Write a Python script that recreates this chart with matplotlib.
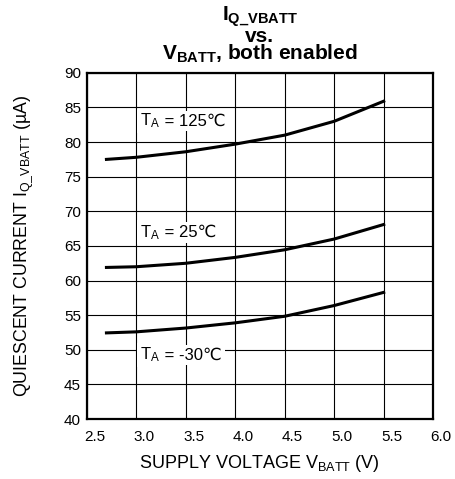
import numpy as np
from matplotlib import pyplot as plt
from matplotlib.transforms import ScaledTranslation

plt.rcParams["font.family"] = ["Liberation Sans", "DejaVu Sans"]
plt.rcParams["mathtext.fontset"] = "custom"
plt.rcParams["mathtext.rm"] = "Liberation Sans"
plt.rcParams["mathtext.it"] = "Liberation Sans"
plt.rcParams["mathtext.bf"] = "Liberation Sans:bold"

# Supply voltage (V)
v_batt = [2.7, 3.0, 3.5, 4.0, 4.5, 5.0, 5.5]

# Quiescent current (uA) per ambient temperature
iq_125 = [77.5, 77.8, 78.6, 79.7, 81.0, 83.0, 85.9]
iq_25 = [61.9, 62.0, 62.5, 63.35, 64.45, 66.0, 68.1]
iq_m30 = [52.45, 52.6, 53.15, 53.9, 54.85, 56.4, 58.3]

curves = [iq_125, iq_25, iq_m30]
temps = [" = 125\u2103", " = 25\u2103", " = -30\u2103"]
label_pos = [(3.04, 82.4), (3.04, 66.3), (3.04, 48.6)]

x_ticks = [2.5, 3.0, 3.5, 4.0, 4.5, 5.0, 5.5, 6.0]
y_ticks = [40, 45, 50, 55, 60, 65, 70, 75, 80, 85, 90]

fig = plt.figure(figsize=(4.56, 4.79), dpi=100)
ax = fig.add_axes([0.19, 0.125, 0.76, 0.723])

for iq in curves:
    ax.plot(v_batt, iq, color="black", linewidth=2.2, zorder=3)

# Temperature labels: "T" with subscript A, then the rest as plain text
box = dict(facecolor="white", edgecolor="none", pad=2)
for text, (x, y) in zip(temps, label_pos):
    t1 = ax.text(x, y, "T$_{\\mathrm{A}}$", fontsize=12, ha="left", va="baseline",
                 zorder=5, bbox=box)
    ax.annotate(text, xy=(1, y), xycoords=(t1, "data"), fontsize=12,
                ha="left", va="baseline", zorder=4, bbox=box)

ax.set_xlim(2.5, 6.0)
ax.set_ylim(40, 90)
ax.set_xticks(x_ticks)
ax.set_xticklabels([f"{t:.1f}" for t in x_ticks])
ax.set_yticks(y_ticks)
ax.tick_params(length=0, labelsize=11)
ax.tick_params(axis="x", pad=8)
ax.tick_params(axis="y", pad=4)
shift = ScaledTranslation(0.08, 0, fig.dpi_scale_trans)
for lbl in ax.get_xticklabels():
    lbl.set_transform(lbl.get_transform() + shift)

ax.grid(True, color="black", linewidth=0.8)
ax.set_axisbelow(True)
for spine in ax.spines.values():
    spine.set_linewidth(1.6)

ax.set_xlabel("SUPPLY VOLTAGE V$_{\\mathrm{BATT}}$ (V)", fontsize=13, labelpad=6)
ax.set_ylabel("QUIESCENT CURRENT I$_{\\mathrm{Q\\_VBATT}}$ (\u00b5A)", fontsize=12.8)
ax.yaxis.set_label_coords(-0.15, 0.5)

# Title, three lines in one text
cx = 0.19 + 0.76 / 2
fig.text(cx, 1 - 5 / 479,
         "$\\mathbf{I_{Q\\_VBATT}}$\nvs.\n$\\mathbf{V_{BATT}}$, both enabled",
         fontsize=15, fontweight="bold", ha="center", va="top",
         multialignment="center", linespacing=0.82)

plt.savefig("out.png", dpi=100)
